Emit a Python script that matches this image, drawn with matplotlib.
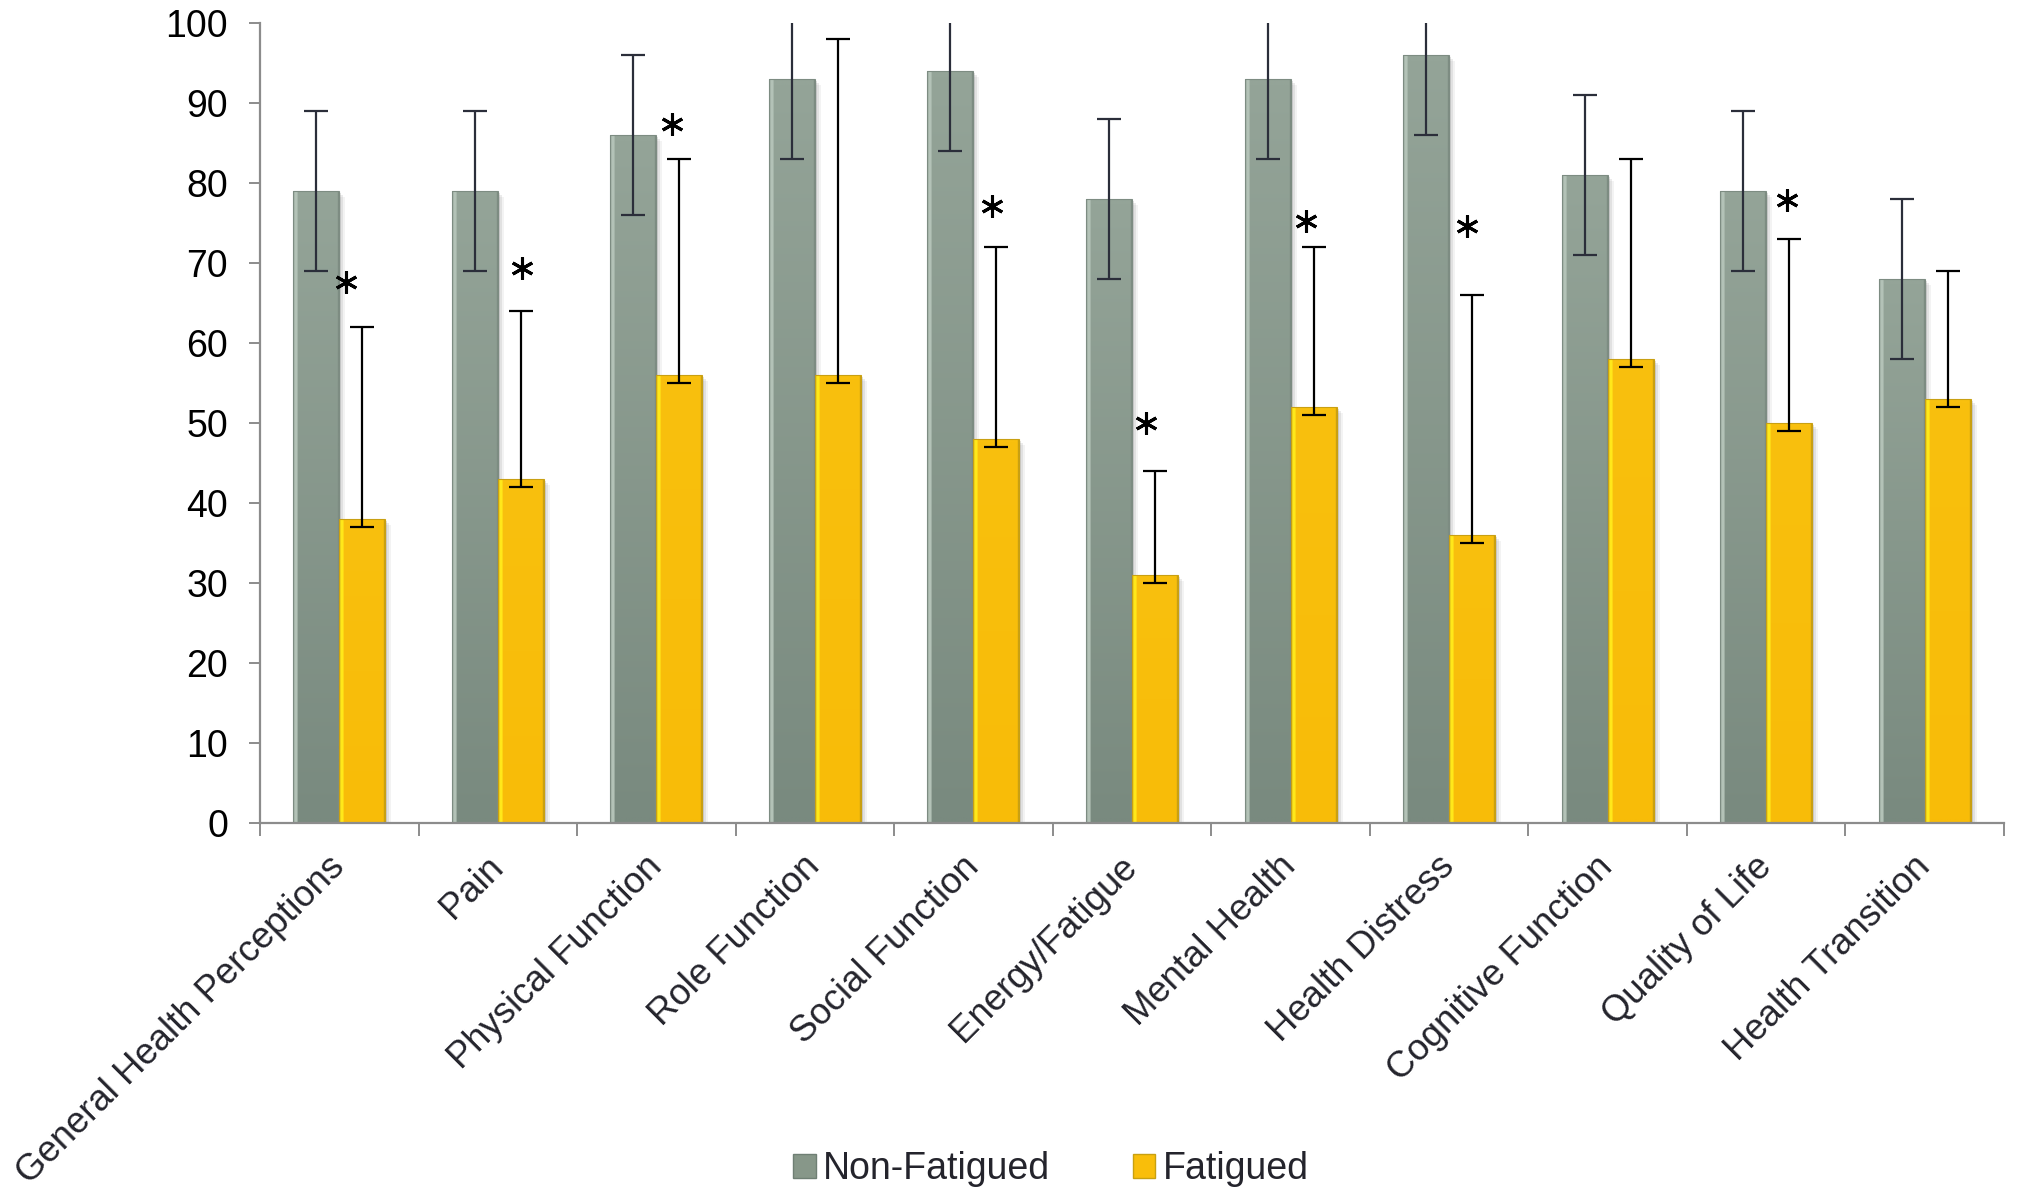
import numpy as np
import matplotlib
matplotlib.use("Agg")
import matplotlib.pyplot as plt
from matplotlib.patches import Rectangle, Patch

categories = ["General Health Perceptions", "Pain", "Physical Function", "Role Function",
              "Social Function", "Energy/Fatigue", "Mental Health", "Health Distress",
              "Cognitive Function", "Quality of Life", "Health Transition"]
non_fatigued = [79, 79, 86, 93, 94, 78, 93, 96, 81, 79, 68]
non_fatigued_err = [10, 10, 10, 10, 10, 10, 10, 10, 10, 10, 10]
fatigued = [38, 43, 56, 56, 48, 31, 52, 36, 58, 50, 53]
fatigued_err_up = [24, 21, 27, 42, 24, 13, 20, 30, 25, 23, 16]
fatigued_err_down = [1, 1, 1, 1, 1, 1, 1, 1, 1, 1, 1]

# significance stars (category index, height, small x shift)
star_idx = [0, 1, 2, 4, 5, 6, 7, 9]
star_y = [67.6, 69.4, 87.4, 77.1, 50.0, 75.2, 74.6, 77.9]
star_dx = [0.04, 0.15, 0.10, 0.12, 0.09, 0.10, 0.115, 0.13]

plt.rcParams['font.family'] = ['Liberation Sans', 'DejaVu Sans']
TEXT = '#24242c'
AXIS = '#8c8c8c'

fig = plt.figure(figsize=(20.21, 11.94), dpi=100)
ax = fig.add_axes([260 / 2021, 1 - 822.7 / 1194, (2004 - 260) / 2021, 800 / 1194])

x = np.arange(len(categories))
w = 0.29
off = 0.145


def bar_image(top, bottom, light, dark):
    # vertical gradient with a bevel highlight on the left and darker right edge
    rows = np.linspace(0, 1, 60)[:, None, None]
    base = np.array(top)[None, None, :] * (1 - rows) + np.array(bottom)[None, None, :] * rows
    img = np.repeat(base, 40, axis=1)
    img[:, 1:4, :] = np.array(light)
    img[:, 0, :] = np.array(dark)
    img[:, -1, :] = np.array(dark)
    return np.clip(img, 0, 1)


def rgb(h):
    h = h.lstrip('#')
    return [int(h[i:i + 2], 16) / 255 for i in (0, 2, 4)]


green_img = bar_image(rgb('#94a498'), rgb('#798a7f'), rgb('#b3c2b7'), rgb('#7d8c82'))
yellow_img = bar_image(rgb('#f9c00e'), rgb('#f8bc08'), rgb('#ffe81a'), rgb('#c9a012'))
px_x = 1 / 158.6
px_y = 1 / 8.0


def draw_bars(xs, vals, img):
    for xc, v in zip(xs, vals):
        x0 = xc - w / 2
        for k, a in zip([2, 4, 6], [0.18, 0.12, 0.07]):
            ax.add_patch(Rectangle((x0 + k * px_x, 0), w, v - k * px_y, color='#606060',
                                   alpha=a, lw=0, zorder=1))
        ax.imshow(img, extent=(x0, x0 + w, 0, v), aspect='auto', zorder=2,
                  interpolation='bilinear')
        ax.add_patch(Rectangle((x0, 0), w, v, fill=False, lw=0.8,
                               edgecolor=img[0, 0], zorder=2.5))


draw_bars(x - off, non_fatigued, green_img)
draw_bars(x + off, fatigued, yellow_img)

ax.errorbar(x - off, non_fatigued, yerr=non_fatigued_err, fmt='none', ecolor='#2b2e3a',
            elinewidth=1.6, capsize=8.5, capthick=1.6, zorder=3)
ax.errorbar(x + off, fatigued, yerr=[fatigued_err_down, fatigued_err_up], fmt='none',
            ecolor='#000000', elinewidth=1.6, capsize=8.5, capthick=1.6, zorder=3)

for i, yv, dx in zip(star_idx, star_y, star_dx):
    ax.plot(x[i] + dx, yv, marker=(6, 2, 0), markersize=16, markeredgewidth=2.2,
            color='black', linestyle='none', zorder=4)

ax.set_xlim(-0.5, len(categories) - 0.5)
ax.set_ylim(0, 100)
ax.set_yticks(np.arange(0, 101, 10))
ax.tick_params(axis='y', direction='out', length=8, width=1.4, color=AXIS,
               labelsize=27, pad=15, labelcolor='black')

ax.set_xticks(x)
ax.set_xticks(np.arange(-0.5, len(categories), 1.0), minor=True)
ax.set_xticklabels(categories)
ax.tick_params(axis='x', which='major', length=0, pad=28, labelsize=26.3, labelcolor=TEXT)
ax.tick_params(axis='x', which='minor', direction='out', length=9, width=1.4, color=AXIS)
for lbl in ax.get_xticklabels():
    lbl.set_rotation(45)
    lbl.set_ha('right')
    lbl.set_va('center')
    lbl.set_rotation_mode('anchor')

for s in ['top', 'right']:
    ax.spines[s].set_visible(False)
for s in ['left', 'bottom']:
    ax.spines[s].set_color(AXIS)
    ax.spines[s].set_linewidth(1.6)
ax.set_facecolor('white')

handles = [Patch(facecolor='#879789', edgecolor='#6f7f74', label='Non-Fatigued'),
           Patch(facecolor='#f9be0a', edgecolor='#c8a010', label='Fatigued')]
fig.legend(handles=handles, loc='center', bbox_to_anchor=(1051 / 2021, 1 - 1169 / 1194),
           ncol=2, frameon=False, fontsize=27, handlelength=0.6, handleheight=0.6,
           handletextpad=0.2, columnspacing=2.2, labelcolor=TEXT)

fig.savefig('out.png', dpi=100, facecolor='white')
